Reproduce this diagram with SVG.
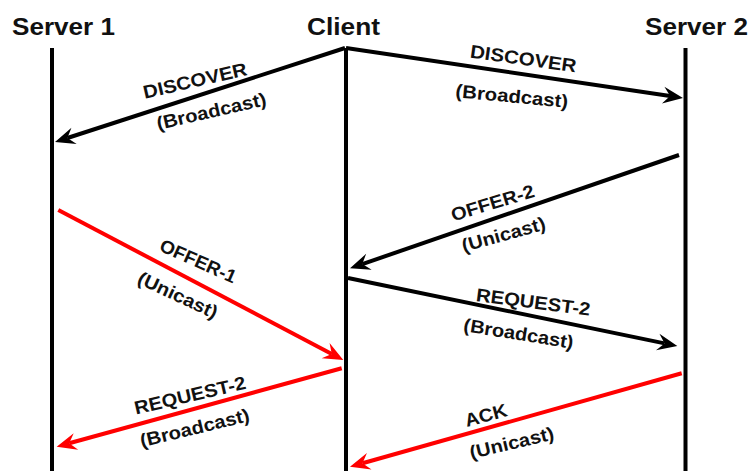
<svg xmlns="http://www.w3.org/2000/svg" width="750" height="471" viewBox="0 0 750 471">
<style>
text{font-family:"Liberation Sans",Arial,sans-serif;font-weight:bold;fill:#111}
.title{font-size:24.5px}
.lbl{font-size:18.5px;text-anchor:middle}
.life{stroke:#000;stroke-width:4;fill:none}
.msg{stroke:#000;stroke-width:4;fill:none;marker-end:url(#ahb)}
.msg.red{stroke:#ff0000;marker-end:url(#ahr)}
</style>
<defs>
<marker id="ahb" markerUnits="userSpaceOnUse" markerWidth="30" markerHeight="20" refX="0" refY="0" orient="auto" overflow="visible">
<path d="M13,0 L-7,-8.5 L0,0 L-7,8.5 Z" fill="#000"/>
</marker>
<marker id="ahr" markerUnits="userSpaceOnUse" markerWidth="30" markerHeight="20" refX="0" refY="0" orient="auto" overflow="visible">
<path d="M13,0 L-7,-8.5 L0,0 L-7,8.5 Z" fill="#ff0000"/>
</marker>
</defs>
<rect width="750" height="471" fill="#fff"/>
<g id="server1">
<text class="title" x="12" y="35" textLength="103" lengthAdjust="spacingAndGlyphs">Server 1</text>
<line class="life" x1="52" y1="48" x2="52" y2="471"/>
</g>
<g id="client">
<text class="title" x="307" y="35" textLength="73" lengthAdjust="spacingAndGlyphs">Client</text>
<line class="life" x1="346" y1="48" x2="346" y2="471"/>
</g>
<g id="server2">
<text class="title" x="645" y="35" textLength="103" lengthAdjust="spacingAndGlyphs">Server 2</text>
<line class="life" x1="685.5" y1="48" x2="685.5" y2="471"/>
</g>
<g id="connectors">
<g id="discover1">
<path class="msg" d="M345,48 L67.4,138"/>
<text class="lbl" transform="translate(196.5,86.8) rotate(-13)" textLength="106" lengthAdjust="spacingAndGlyphs">DISCOVER</text>
<text class="lbl" transform="translate(212.7,117.5) rotate(-13)" textLength="112" lengthAdjust="spacingAndGlyphs">(Broadcast)</text>
</g>
<g id="discover2">
<path class="msg" d="M346,48 L670.1,96.1"/>
<text class="lbl" transform="translate(522.4,64.9) rotate(8)" textLength="107" lengthAdjust="spacingAndGlyphs">DISCOVER</text>
<text class="lbl" transform="translate(511.3,102.5) rotate(5.5)" textLength="113" lengthAdjust="spacingAndGlyphs">(Broadcast)</text>
</g>
<g id="offer2">
<path class="msg" d="M679,155 L362.3,264.1"/>
<text class="lbl" transform="translate(494.5,209) rotate(-16.8)" textLength="86" lengthAdjust="spacingAndGlyphs">OFFER-2</text>
<text class="lbl" transform="translate(505.2,240.6) rotate(-15.6)" textLength="86" lengthAdjust="spacingAndGlyphs">(Unicast)</text>
</g>
<g id="request2b">
<path class="msg" d="M348,278 L664.6,343.4"/>
<text class="lbl" transform="translate(532.5,308.3) rotate(7.4)" textLength="115" lengthAdjust="spacingAndGlyphs">REQUEST-2</text>
<text class="lbl" transform="translate(517.6,339.9) rotate(9.2)" textLength="111" lengthAdjust="spacingAndGlyphs">(Broadcast)</text>
</g>
<g id="offer1">
<path class="msg red" d="M58.3,210 L331.8,353.9"/>
<text class="lbl" transform="translate(195.6,266.9) rotate(24)" textLength="82" lengthAdjust="spacingAndGlyphs">OFFER-1</text>
<text class="lbl" transform="translate(175.1,300.9) rotate(25)" textLength="86" lengthAdjust="spacingAndGlyphs">(Unicast)</text>
</g>
<g id="request2r">
<path class="msg red" d="M341.7,368.3 L69.2,443.3"/>
<text class="lbl" transform="translate(191.5,401.5) rotate(-13.1)" textLength="114" lengthAdjust="spacingAndGlyphs">REQUEST-2</text>
<text class="lbl" transform="translate(196.2,434.1) rotate(-13.6)" textLength="112" lengthAdjust="spacingAndGlyphs">(Broadcast)</text>
</g>
<g id="ack">
<path class="msg red" d="M681.7,373.3 L362.5,463.2"/>
<text class="lbl" transform="translate(487.5,421.4) rotate(-15)" textLength="43" lengthAdjust="spacingAndGlyphs">ACK</text>
<text class="lbl" transform="translate(513.2,449.1) rotate(-13.3)" textLength="86" lengthAdjust="spacingAndGlyphs">(Unicast)</text>
</g>
</g>
</svg>
